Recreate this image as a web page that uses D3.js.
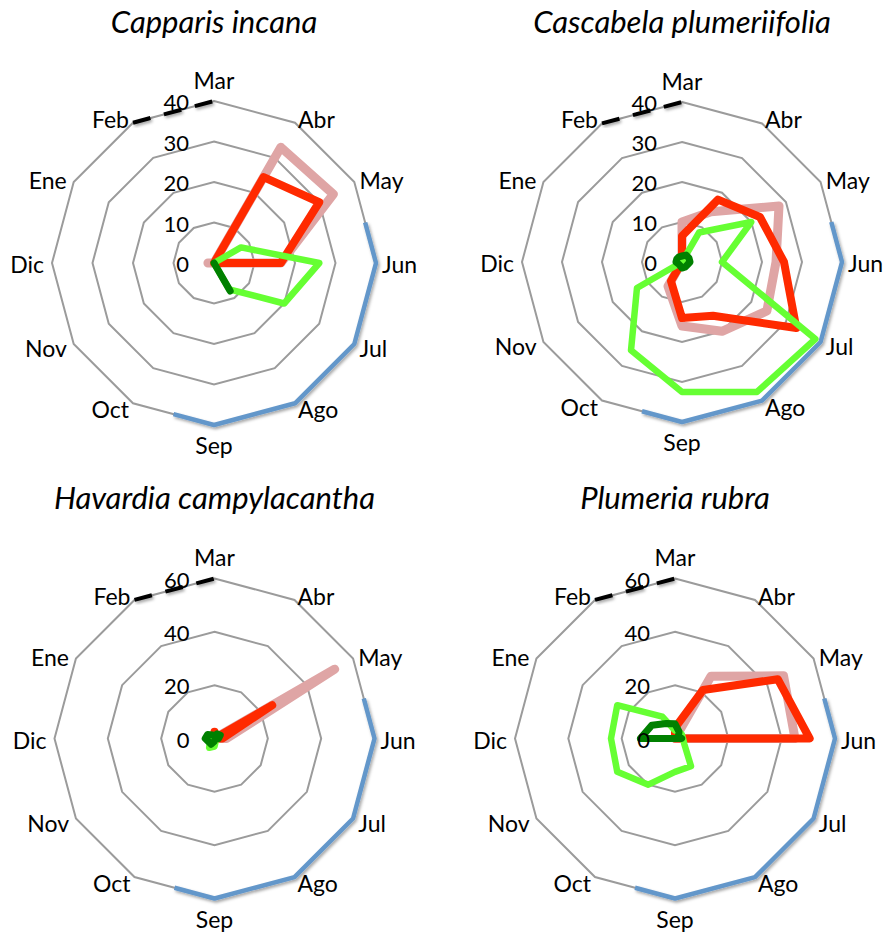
<!DOCTYPE html>
<html>
<head>
<meta charset="utf-8">
<script src="https://cdn.jsdelivr.net/npm/d3@7"></script>
<style>
  html, body { margin: 0; padding: 0; background: #fff; }
  svg { display: block; }
  text { font-family: "Lato", "Open Sans", sans-serif; fill: #000; }
</style>
</head>
<body>
<svg id="chart" width="886" height="937"></svg>
<script>
// ---------- DATA ----------
const months = ["Mar","Abr","May","Jun","Jul","Ago","Sep","Oct","Nov","Dic","Ene","Feb"];
const titles = ["Capparis incana","Cascabela plumeriifolia","Havardia campylacantha","Plumeria rubra"];
const ticksTop = [0, 10, 20, 30, 40];
const ticksBottom = [0, 20, 40, 60];

// values in month order Mar..Feb
const capparisPink      = [0, 33, 34, 16.5, 0, 0, 0, 0, 0, 1.5, 0, 0];
const capparisRed       = [0, 24.5, 30, 16.5, 0, 0, 0, 0, 0, 0, 0, 0];
const capparisLightGreen= [0, 0, 7.7, 26, 20, 7.5, 0, 0, 0, 0, 0, 0];
const capparisDarkGreen = [0, 0, 0, 0, 0, 8, 0, 0, 0, 0, 0, 0];

const cascabelaPink      = [10, 14.5, 28, 23.5, 24.5, 20, 16, 7, 0, 0, 0, 0];
const cascabelaRed       = [6.5, 18, 22.5, 25.5, 33, 15.5, 14, 5.5, 0, 0, 0, 0];
const cascabelaLightGreen= [0, 8.5, 20, 10, 38.5, 37.5, 32.5, 25.5, 13, 0, 0, 0];
const cascabelaDarkGreen = [1.5, 2, 2, 2, 1.5, 1.5, 1.5, 1, 1, 1.5, 1.5, 1.5];

const havardiaPink      = [0, 0, 52, 4.5, 0, 0, 0, 0, 0, 0, 0, 0];
const havardiaRed       = [2.5, 0, 25, 3, 0, 0, 0, 0, 0, 0, 0, 0];
const havardiaLightGreen= [1, 1, 2, 1, 1, 1, 3, 4, 2, 2, 1, 1];
const havardiaDarkGreen = [1, 2, 2.5, 1.5, 0.5, 0.5, 1, 2.5, 2.5, 3.5, 3, 1.5];

const plumeriaPink      = [0, 27, 47, 45, 0, 0, 0, 0, 0, 0, 0, 0];
const plumeriaRed       = [4, 21, 44.5, 50.5, 0, 0, 0, 0, 0, 0, 0, 0];
const plumeriaLightGreen= [3, 3, 3, 3, 4, 12, 12.5, 20, 25, 24, 25, 9.5];
const plumeriaDarkGreen = [5.5, 3, 1.5, 2.5, 0, 0, 0, 0, 0, 13, 10, 6.5];

// highlighted spans on the outer ring (month index, Mar = 0)
const rainySpan = [2.5, 6.5];
const dashedSpan = [11, 12];

// ---------- STYLE / LAYOUT ----------
const seriesStyle = [
  { color: "#dfa5a5", width: 9 },
  { color: "#ff2a00", width: 8 },
  { color: "#66ff33", width: 6.5 },
  { color: "#008000", width: 7 }
];
const panels = [
  { cx: 214, cy: 263, R: 162, ty: 33, ticks: ticksTop,
    series: [capparisPink, capparisRed, capparisLightGreen, capparisDarkGreen] },
  { cx: 682, cy: 262, R: 160, ty: 33, ticks: ticksTop,
    series: [cascabelaPink, cascabelaRed, cascabelaLightGreen, cascabelaDarkGreen] },
  { cx: 214.5, cy: 738.5, R: 160, ty: 509, ticks: ticksBottom,
    series: [havardiaPink, havardiaRed, havardiaLightGreen, havardiaDarkGreen] },
  { cx: 675, cy: 738.5, R: 160, ty: 509, ticks: ticksBottom,
    series: [plumeriaPink, plumeriaRed, plumeriaLightGreen, plumeriaDarkGreen] }
];

const svg = d3.select("#chart");
svg.append("rect").attr("width", 886).attr("height", 937).attr("fill", "#fff");

const defs = svg.append("defs");
const f = defs.append("filter").attr("id", "shadow")
  .attr("x", "-20%").attr("y", "-20%").attr("width", "140%").attr("height", "140%");
f.append("feDropShadow").attr("dx", 1.5).attr("dy", 2).attr("stdDeviation", 1.5)
  .attr("flood-color", "#000").attr("flood-opacity", 0.35);

const n = months.length;
const angle = d3.scaleLinear().domain([0, n]).range([0, 2 * Math.PI]);

panels.forEach((p, pi) => {
  const maxV = d3.max(p.ticks);
  const r = d3.scaleLinear().domain([0, maxV]).range([0, p.R]);
  const g = svg.append("g").attr("transform", `translate(${p.cx},${p.cy})`);

  // title
  svg.append("text")
    .attr("x", p.cx).attr("y", p.ty)
    .attr("text-anchor", "middle")
    .attr("font-size", 31).attr("font-style", "italic")
    .text(titles[pi]);

  // grid rings
  const ringLine = d3.lineRadial()
    .angle((d, i) => angle(i)).radius(d => r(d))
    .curve(d3.curveLinearClosed);
  p.ticks.filter(t => t > 0).forEach(t => {
    g.append("path")
      .attr("d", ringLine(months.map(() => t)))
      .attr("fill", "none").attr("stroke", "#9b9b9b").attr("stroke-width", 2);
  });

  // outer ring partial spans
  const outerPt = (t) => {
    const i = Math.floor(t), j = i + 1, fr = t - i;
    const a = d3.pointRadial(angle(i), p.R), b = d3.pointRadial(angle(j), p.R);
    return [a[0] + (b[0] - a[0]) * fr, a[1] + (b[1] - a[1]) * fr];
  };
  const spanPts = (s, e) => {
    const pts = [outerPt(s)];
    for (let k = Math.floor(s) + 1; k < e; k++) pts.push(d3.pointRadial(angle(k), p.R));
    pts.push(outerPt(e));
    return pts;
  };
  const line = d3.line();
  g.append("path")
    .attr("d", line(spanPts(rainySpan[0], rainySpan[1])))
    .attr("fill", "none").attr("stroke", "#6497ca").attr("stroke-width", 4.5)
    .attr("stroke-linejoin", "round")
    .attr("filter", "url(#shadow)");

  // series
  const radial = d3.lineRadial()
    .angle((d, i) => angle(i)).radius(d => r(d))
    .curve(d3.curveLinearClosed);
  p.series.forEach((vals, si) => {
    g.append("path")
      .attr("d", radial(vals))
      .attr("fill", "none")
      .attr("stroke", seriesStyle[si].color)
      .attr("stroke-width", seriesStyle[si].width)
      .attr("stroke-linejoin", "round")
      .attr("stroke-linecap", "round");
  });

  // month labels
  months.forEach((m, i) => {
    const a = angle(i);
    const s = Math.sin(a), c = Math.cos(a);
    const [vx, vy] = d3.pointRadial(a, p.R);
    let x, y, anchor;
    if (Math.abs(s) < 0.01) {
      anchor = "middle"; x = vx;
      y = c > 0 ? vy - 12.5 : vy + 29;
    } else if (s > 0) {
      anchor = "start";
      x = vx + 6 * s; y = vy - 6 * c + 10;
    } else {
      anchor = "end";
      x = vx + 8 * s; y = vy - 6 * c + 10;
    }
    g.append("text").attr("x", x).attr("y", y)
      .attr("text-anchor", anchor).attr("font-size", 23).text(m);
  });

  // tick labels
  p.ticks.forEach(t => {
    g.append("text")
      .attr("x", -25).attr("y", -r(t) + 9)
      .attr("text-anchor", "end").attr("font-size", 22)
      .text(t);
  });

  // dashed Feb-Mar span
  g.append("path")
    .attr("d", line(spanPts(dashedSpan[0], dashedSpan[1] - 0.0001).concat([d3.pointRadial(angle(dashedSpan[1]), p.R)])))
    .attr("fill", "none").attr("stroke", "#000").attr("stroke-width", 4)
    .attr("stroke-dasharray", "18,14")
    .attr("filter", "url(#shadow)");
});
</script>
</body>
</html>
